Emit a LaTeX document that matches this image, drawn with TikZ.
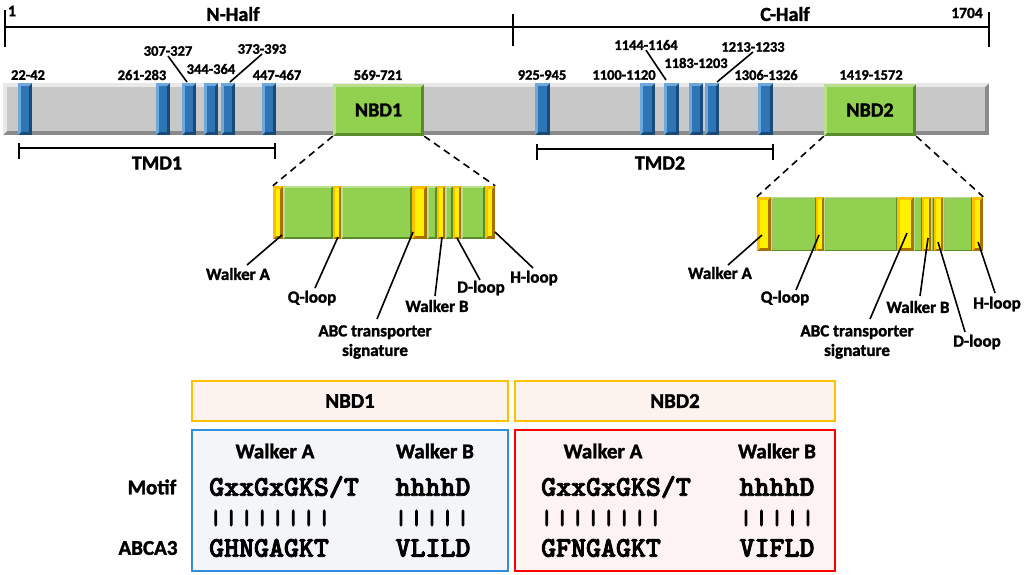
\documentclass[tikz,border=0pt]{standalone}
\usepackage{fontspec}
\setmainfont{Carlito}[BoldFont={Carlito Bold}, BoldFeatures={FakeBold=1.6}]
\newfontfamily\monof{lmmonolt10-bold.otf}[FakeBold=3]
\newfontfamily\barf{lmmonolt10-bold.otf}[FakeBold=6]
\usetikzlibrary{calc}
\definecolor{barL}{HTML}{E8E8E8}
\definecolor{barM}{HTML}{C8C8C8}
\definecolor{barD}{HTML}{8A8A8A}
\definecolor{tmL}{HTML}{6FA8DC}
\definecolor{tmM}{HTML}{2E75B6}
\definecolor{tmD}{HTML}{1A4A78}
\definecolor{grL}{HTML}{B8E08E}
\definecolor{grM}{HTML}{92D050}
\definecolor{grD}{HTML}{5A8A2A}
\definecolor{yeL}{HTML}{FFC000}
\definecolor{yeM}{HTML}{FFF000}
\definecolor{yeD}{HTML}{A87000}
\definecolor{hdrFill}{HTML}{FDF3EE}
\definecolor{hdrLine}{HTML}{FFC000}
\definecolor{blueLine}{HTML}{2F8FDD}
\definecolor{blueFill}{HTML}{F3F5F8}
\definecolor{redLine}{HTML}{FF0000}
\definecolor{redFill}{HTML}{FDF3F2}
% bevelled rectangle: x1 y1 x2 y2 light main dark bevel
\newcommand\bevbox[8]{%
  \fill[#7] (#1,#2) rectangle (#3,#4);
  \fill[#5] (#1,#2) -- (#3,#2) -- ({#3-#8},{#2+#8}) -- ({#1+#8},{#2+#8}) -- ({#1+#8},{#4-#8}) -- (#1,#4) -- cycle;
  \fill[#6] ({#1+#8},{#2+#8}) rectangle ({#3-#8},{#4-#8});}
\newcommand\vbar{\makebox[15.5pt]{|}}
\tikzset{
  num/.style={font=\bfseries\fontsize{14.5}{16}\selectfont, inner sep=0pt},
  big/.style={font=\bfseries\fontsize{20}{22}\selectfont, inner sep=0pt},
  mid/.style={font=\bfseries\fontsize{17}{19.5}\selectfont, inner sep=0pt, align=center},
  hd/.style={font=\bfseries\fontsize{21}{23}\selectfont, inner sep=0pt},
  seq/.style={font=\monof\fontsize{28.5}{30}\selectfont, inner sep=0pt},
  bars/.style={font=\barf\fontsize{20}{22}\selectfont, inner sep=0pt},
  lead/.style={line width=1.6pt, black},
  rule/.style={line width=1.8pt, black},
  dsh/.style={line width=1.6pt, black, dash pattern=on 7pt off 5pt},
  frame/.style={draw, line width=2.6pt, inner sep=0pt},
}
\begin{document}
\begin{tikzpicture}[x=1pt,y=-1pt]
\useasboundingbox (0,0) rectangle (1024,574);
\fill[white] (0,0) rectangle (1024,574);

% ---- scale line ----
\coordinate (s0) at (5,27);
\coordinate (s1) at (989,27);
\coordinate (sm) at (513,27);
\draw[rule] (s0) -- (s1);
\draw[rule] (5,10) -- (5,47);
\draw[rule] (513,14) -- (513,46);
\draw[rule] (989,12) -- (989,47);
\node[num, font=\bfseries\fontsize{16}{17}\selectfont] (one) at (12,11) {1};
\node[num, font=\bfseries\fontsize{15.5}{16}\selectfont] (end) at (967,13) {1704};
\node[big] (nh) at (233,14) {N-Half};
\node[big] (ch) at (785,14) {C-Half};

% ---- protein bar ----
\bevbox{3}{83}{989}{135}{barL}{barM}{barD}{4}
% TM segments
\foreach \a/\b in {18/32,156/170,182/196,204/218,221/235,262/276,535/550,640/655,664/679,689/703,705/719,758/773}{
  \bevbox{\a}{83}{\b}{135}{tmL}{tmM}{tmD}{3}
}
% NBDs
\bevbox{333}{84}{424}{136}{grL}{grM}{grD}{3}
\bevbox{824}{84}{916}{136}{grL}{grM}{grD}{3}
\node[big, minimum width=91pt, minimum height=52pt] (nbdA) at (378.5,110) {NBD1};
\node[big, minimum width=92pt, minimum height=52pt] (nbdB) at (870,110) {NBD2};

% TM labels
\node[num] (l22) at (28,75) {22-42};
\node[num] (l261) at (142,75) {261-283};
\node[num] (l307) at (168,51) {307-327};
\node[num] (l344) at (211,69) {344-364};
\node[num] (l373) at (262,49) {373-393};
\node[num] (l447) at (277,75) {447-467};
\node[num] (l569) at (378,75) {569-721};
\node[num] (l925) at (542,75) {925-945};
\node[num] (l1100) at (624,75) {1100-1120};
\node[num] (l1144) at (646,45) {1144-1164};
\node[num] (l1183) at (696,63) {1183-1203};
\node[num] (l1213) at (753,47) {1213-1233};
\node[num] (l1306) at (766,75) {1306-1326};
\node[num] (l1419) at (871,75) {1419-1572};
\coordinate (t307) at (187,82);
\coordinate (t373) at (230,82);
\coordinate (t1144) at (666,80);
\coordinate (t1213) at (717,82);
\draw[lead] (l307.south) -- (t307);
\draw[lead] (l373.south) -- (t373);
\draw[lead] (l1144.south) -- (t1144);
\draw[lead] (l1213.south) -- (t1213);

% TMD brackets
\draw[rule] (19,148) -- (275,148);
\draw[rule] (19,143) -- (19,159);
\draw[rule] (275,143) -- (275,159);
\node[big] (tmd1) at (157,163) {TMD1};
\draw[rule] (537,149) -- (773,149);
\draw[rule] (537,144) -- (537,160);
\draw[rule] (773,144) -- (773,160);
\node[big] (tmd2) at (660,163) {TMD2};

% ---- expanded NBD1 ----
\foreach \a/\b in {283/333,341/412,427/437,445/453,461/485}{
  \bevbox{\a}{186}{\b}{239}{grL}{grM}{grD}{2}
}
\foreach \a/\b/\w in {273/283/3,333/341/2,412/427/3,437/445/2,453/461/2,485/495/3}{
  \bevbox{\a}{186}{\b}{239}{yeL}{yeM}{yeD}{\w}
}
\node[minimum width=222pt, minimum height=53pt, inner sep=0pt] (expA) at (384,212.5) {};
\draw[dsh] (nbdA.south west) -- (expA.north west);
\draw[dsh] (nbdA.south east) -- (expA.north east);

\node[mid] (waA) at (238,274) {Walker A};
\node[mid] (qA) at (312,298) {Q-loop};
\node[mid] (abcA) at (375,342) {ABC transporter\\signature};
\node[mid] (wbA) at (437,306) {Walker B};
\node[mid] (dA) at (481,288) {D-loop};
\node[mid] (hA) at (534,278) {H-loop};
\coordinate (pwaA) at (282,235); \coordinate (ewaA) at (247,265);
\coordinate (pqA) at (338,237);  \coordinate (eqA) at (315,288);
\coordinate (pabcA) at (413,232); \coordinate (eabcA) at (377,319);
\coordinate (pwbA) at (442,237); \coordinate (ewbA) at (435,296);
\coordinate (pdA) at (457,238);  \coordinate (edA) at (480,280);
\coordinate (phA) at (495,232);  \coordinate (ehA) at (533,268);
\draw[lead] (pwaA) -- (ewaA);
\draw[lead] (pqA) -- (eqA);
\draw[lead] (pabcA) -- (eabcA);
\draw[lead] (pwbA) -- (ewbA);
\draw[lead] (pdA) -- (edA);
\draw[lead] (phA) -- (ehA);

% ---- expanded NBD2 ----
\foreach \a/\b in {771/816,824/897,914/922,931/934,943/972}{
  \bevbox{\a}{197}{\b}{251}{grL}{grM}{grD}{1.5}
}
\foreach \a/\b/\w in {757/771/3,816/824/2,897/914/3,922/931/2,934/943/2,972/983/3}{
  \bevbox{\a}{197}{\b}{251}{yeL}{yeM}{yeD}{\w}
}
\node[minimum width=226pt, minimum height=54pt, inner sep=0pt] (expB) at (870,224) {};
\draw[dsh] (nbdB.south west) -- (expB.north west);
\draw[dsh] (nbdB.south east) -- (expB.north east);

\node[mid] (waB) at (720,273) {Walker A};
\node[mid] (qB) at (785,298) {Q-loop};
\node[mid] (abcB) at (857,342) {ABC transporter\\signature};
\node[mid] (wbB) at (918,307) {Walker B};
\node[mid] (hB) at (997,304) {H-loop};
\node[mid] (dB) at (977,342) {D-loop};
\coordinate (pwaB) at (762,235); \coordinate (ewaB) at (728,265);
\coordinate (pqB) at (819,235);  \coordinate (eqB) at (796,290);
\coordinate (pabcB) at (907,233); \coordinate (eabcB) at (870,319);
\coordinate (pwbB) at (928,238); \coordinate (ewbB) at (920,296);
\coordinate (phB) at (978,242);  \coordinate (ehB) at (995,293);
\coordinate (pdB) at (938,242);  \coordinate (edB) at (965,332);
\draw[lead] (pwaB) -- (ewaB);
\draw[lead] (pqB) -- (eqB);
\draw[lead] (pabcB) -- (eabcB);
\draw[lead] (pwbB) -- (ewbB);
\draw[lead] (phB) -- (ehB);
\draw[lead] (pdB) -- (edB);

% ---- motif table ----
\node[frame, draw=hdrLine, fill=hdrFill, minimum width=316pt, minimum height=40pt, hd] (h1) at (350,401) {NBD1};
\node[frame, draw=hdrLine, fill=hdrFill, minimum width=320pt, minimum height=40pt, hd] (h2) at (675,401) {NBD2};
\node[frame, draw=blueLine, fill=blueFill, minimum width=316pt, minimum height=141pt] (b1) at (350,500.5) {};
\node[frame, draw=redLine, fill=redFill, minimum width=320pt, minimum height=141pt] (b2) at (675,500.5) {};

\node[hd] (m) at (152,487) {Motif};
\node[hd] (ab) at (148,548) {ABCA3};

\node[hd] (wa1) at (275,451) {Walker A};
\node[hd] (wb1) at (435,451) {Walker B};
\node[seq] (sa1) at (284,487) {GxxGxGKS/T};
\node[seq] (sb1) at (433,487) {hhhhD};
\node[bars] (ba1) at (270,518) {\vbar\vbar\vbar\vbar\vbar\vbar\vbar\vbar};
\node[bars] (bb1) at (432,518) {\vbar\vbar\vbar\vbar\vbar};
\node[seq] (ca1) at (269,548) {GHNGAGKT};
\node[seq] (cb1) at (433,548) {VLILD};

\node[hd] (wa2) at (603,451) {Walker A};
\node[hd] (wb2) at (777,451) {Walker B};
\node[seq] (sa2) at (616,487) {GxxGxGKS/T};
\node[seq] (sb2) at (777,487) {hhhhD};
\node[bars] (ba2) at (601,518) {\vbar\vbar\vbar\vbar\vbar\vbar\vbar\vbar};
\node[bars] (bb2) at (777,518) {\vbar\vbar\vbar\vbar\vbar};
\node[seq] (ca2) at (601,548) {GFNGAGKT};
\node[seq] (cb2) at (777,548) {VIFLD};
\end{tikzpicture}
\end{document}
